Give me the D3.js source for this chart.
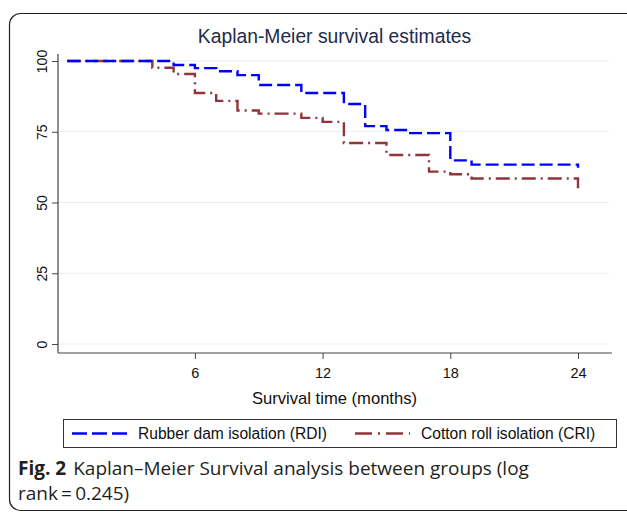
<!DOCTYPE html>
<html>
<head>
<meta charset="utf-8">
<script src="https://cdn.jsdelivr.net/npm/d3@7"></script>
<style>
  body { margin: 0; background: #fff; }
  svg { display: block; }
</style>
</head>
<body>
<div id="chart"></div>
<script>
// Kaplan-Meier step data (time in months, survival in %)
var rdiTime = [0, 5, 6, 7, 8, 9, 11, 13, 14, 15, 16, 18, 19, 24];
var rdiSurv = [100, 98.6, 97.5, 96.4, 95.0, 91.5, 88.7, 84.8, 77.0, 75.6, 74.5, 64.9, 63.4, 62.3];

var criTime = [0, 4, 5, 6, 7, 8, 9, 11, 12, 13, 15, 17, 18, 19, 24];
var criSurv = [100, 97.6, 95.4, 88.7, 85.9, 82.5, 81.4, 79.9, 78.5, 71.0, 66.8, 60.9, 60.0, 58.5, 54.2];

var xTicks = [6, 12, 18, 24];
var yTicks = [0, 25, 50, 75, 100];

var seriesNames = ['Rubber dam isolation (RDI)', 'Cotton roll isolation (CRI)'];

var svgWidth = 627;
var svgHeight = 513;

var blue = '#0000ff';
var maroon = '#90353b';
var chartFont = '"Liberation Sans", Arial, sans-serif';
var captionFont = '"Open Sans", "Noto Sans", sans-serif';

var svg = d3.select('#chart')
    .append('svg')
    .attr('width', svgWidth)
    .attr('height', svgHeight);

// outer frame with rounded corners (runs off the right edge)
svg.append('rect')
    .attr('x', 9.5)
    .attr('y', 13.5)
    .attr('width', 660)
    .attr('height', 497)
    .attr('rx', 11)
    .attr('fill', 'none')
    .attr('stroke', '#222')
    .attr('stroke-width', 1.2);

// scales
var xScale = d3.scaleLinear().domain([0, 24]).range([67.2, 578]);
var yScale = d3.scaleLinear().domain([0, 100]).range([344, 61]);

var plotLeft = 58;
var plotRight = 612;
var plotBottom = 353;

// title
svg.append('text')
    .attr('x', 334.5)
    .attr('y', 43)
    .attr('text-anchor', 'middle')
    .attr('font-family', chartFont)
    .attr('font-size', '19.3px')
    .attr('fill', '#1e2b4a')
    .text('Kaplan-Meier survival estimates');

// gridlines
svg.append('g')
    .selectAll('line')
    .data(yTicks)
    .enter()
    .append('line')
    .attr('x1', plotLeft)
    .attr('x2', 609)
    .attr('y1', d => yScale(d))
    .attr('y2', d => yScale(d))
    .attr('stroke', '#e6eff1')
    .attr('stroke-width', 1);

// y axis
var leftAxis = d3.axisLeft(yScale)
    .tickValues(yTicks)
    .tickSize(6)
    .tickPadding(4);

var yAxis = svg.append('g')
    .attr('transform', `translate(${plotLeft},0)`)
    .call(leftAxis);

yAxis.select('.domain').remove();
yAxis.append('line')
    .attr('x1', 0).attr('x2', 0)
    .attr('y1', 54).attr('y2', plotBottom)
    .attr('stroke', '#444')
    .attr('stroke-width', 1.2);

yAxis.selectAll('.tick line').attr('stroke', '#444');
yAxis.selectAll('.tick text')
    .attr('font-family', chartFont)
    .attr('font-size', '14px')
    .attr('fill', '#111')
    .attr('text-anchor', 'middle')
    .attr('x', 0)
    .attr('dy', 0)
    .attr('transform', 'translate(-11.5,0) rotate(-90)');

// x axis
var bottomAxis = d3.axisBottom(xScale)
    .tickValues(xTicks)
    .tickSize(6)
    .tickPadding(9);

var xAxis = svg.append('g')
    .attr('transform', `translate(0,${plotBottom})`)
    .call(bottomAxis);

xAxis.select('.domain').remove();
xAxis.append('line')
    .attr('x1', plotLeft).attr('x2', plotRight)
    .attr('y1', 0).attr('y2', 0)
    .attr('stroke', '#444')
    .attr('stroke-width', 1.2);

xAxis.selectAll('.tick line').attr('stroke', '#444');
xAxis.selectAll('.tick text')
    .attr('font-family', chartFont)
    .attr('font-size', '14.5px')
    .attr('fill', '#111');

// x axis title
svg.append('text')
    .attr('x', 334.5)
    .attr('y', 404)
    .attr('text-anchor', 'middle')
    .attr('font-family', chartFont)
    .attr('font-size', '16.6px')
    .attr('fill', '#111')
    .text('Survival time (months)');

// survival curves
var stepLine = d3.line()
    .x(d => xScale(d[0]))
    .y(d => yScale(d[1]))
    .curve(d3.curveStepAfter);

var rdiData = rdiTime.map((t, i) => [t, rdiSurv[i]]);
var criData = criTime.map((t, i) => [t, criSurv[i]]);

svg.append('path')
    .datum(criData)
    .attr('d', stepLine)
    .attr('fill', 'none')
    .attr('stroke', maroon)
    .attr('stroke-width', 2.4)
    .attr('stroke-dasharray', '14,5,2,5');

svg.append('path')
    .datum(rdiData)
    .attr('d', stepLine)
    .attr('fill', 'none')
    .attr('stroke', blue)
    .attr('stroke-width', 2.4)
    .attr('stroke-dasharray', '13,5');

// legend
var legend = svg.append('g');

legend.append('rect')
    .attr('x', 63.5)
    .attr('y', 419.5)
    .attr('width', 553)
    .attr('height', 28)
    .attr('fill', '#fff')
    .attr('stroke', '#333')
    .attr('stroke-width', 1);

legend.append('line')
    .attr('x1', 72).attr('x2', 127)
    .attr('y1', 433.5).attr('y2', 433.5)
    .attr('stroke', blue)
    .attr('stroke-width', 2.4)
    .attr('stroke-dasharray', '15,5');

legend.append('text')
    .attr('x', 138)
    .attr('y', 439)
    .attr('font-family', chartFont)
    .attr('font-size', '15.6px')
    .attr('fill', '#111')
    .text(seriesNames[0]);

legend.append('line')
    .attr('x1', 355).attr('x2', 410)
    .attr('y1', 433.5).attr('y2', 433.5)
    .attr('stroke', maroon)
    .attr('stroke-width', 2.4)
    .attr('stroke-dasharray', '17,6,2,6');

legend.append('text')
    .attr('x', 421)
    .attr('y', 439)
    .attr('font-family', chartFont)
    .attr('font-size', '15.6px')
    .attr('fill', '#111')
    .text(seriesNames[1]);

// figure caption
var caption = svg.append('text')
    .attr('x', 18)
    .attr('y', 475)
    .attr('font-family', captionFont)
    .attr('font-size', '19px')
    .attr('fill', '#231f20');

caption.append('tspan')
    .attr('font-weight', 'bold')
    .text('Fig. 2');
caption.append('tspan')
    .attr('dx', 7)
    .text('Kaplan\u2013Meier Survival analysis between groups (log');

svg.append('text')
    .attr('x', 18)
    .attr('y', 500)
    .attr('font-family', captionFont)
    .attr('font-size', '19px')
    .attr('fill', '#231f20')
    .text('rank\u2009=\u20090.245)');
</script>
</body>
</html>
